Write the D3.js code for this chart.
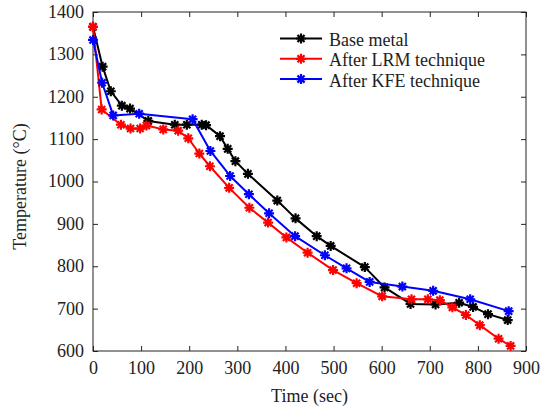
<!DOCTYPE html>
<html>
<head>
<meta charset="utf-8">
<script src="https://cdn.jsdelivr.net/npm/d3@7"></script>
<style>
  html, body { margin: 0; padding: 0; background: #fff; }
  svg { display: block; }
</style>
</head>
<body>
<svg id="chart" width="542" height="411"></svg>
<script>
// Cooling curves: time (sec) and temperature (°C)
const baseTime = [0, 20, 37, 60, 77, 115, 170, 195, 226, 235, 264, 280, 296, 322, 383, 421, 465, 494, 565, 606, 660, 712, 761, 790, 821, 862];
const baseTemp = [1365, 1271, 1213, 1179, 1172, 1143, 1134, 1134, 1134, 1133, 1107, 1077, 1048, 1018, 955, 913, 871, 848, 798, 750, 711, 710, 714, 704, 687, 673];

const lrmTime = [0, 18, 58, 78, 98, 111, 146, 177, 198, 221, 243, 283, 325, 364, 402, 446, 499, 548, 601, 662, 696, 721, 747, 775, 804, 843, 868];
const lrmTemp = [1365, 1170, 1134, 1125, 1125, 1132, 1123, 1120, 1102, 1066, 1036, 985, 938, 903, 868, 832, 791, 760, 729, 722, 722, 720, 703, 685, 661, 629, 612];

const kfeTime = [0, 19, 42, 96, 207, 244, 285, 324, 366, 420, 482, 527, 575, 643, 707, 784, 864];
const kfeTemp = [1334, 1233, 1156, 1160, 1147, 1072, 1013, 970, 925, 871, 826, 795, 763, 752, 742, 722, 694];

const seriesNames = ["Base metal", "After LRM technique", "After KFE technique"];
const seriesColors = ["#000000", "#ff0000", "#0000ff"];

const xTicks = [0, 100, 200, 300, 400, 500, 600, 700, 800, 900];
const yTicks = [600, 700, 800, 900, 1000, 1100, 1200, 1300, 1400];

const series = [
  { name: seriesNames[0], color: seriesColors[0], pts: baseTime.map((t, i) => [t, baseTemp[i]]) },
  { name: seriesNames[1], color: seriesColors[1], pts: lrmTime.map((t, i) => [t, lrmTemp[i]]) },
  { name: seriesNames[2], color: seriesColors[2], pts: kfeTime.map((t, i) => [t, kfeTemp[i]]) }
];

const FONT = "'Liberation Serif', 'Times New Roman', serif";
const fontSize = 18;
const ink = "#222";

const svg = d3.select("#chart");
const plotL = 93, plotR = 526, plotT = 12, plotB = 351;

const x = d3.scaleLinear().domain([0, 900]).range([plotL, plotR]);
const y = d3.scaleLinear().domain([600, 1400]).range([plotB, plotT]);

const tickLen = 5;

function styleText(sel) {
  sel.style("font-family", FONT).style("font-size", fontSize + "px").style("fill", ink);
}

// Plot frame
svg.append("rect")
  .attr("x", plotL).attr("y", plotT)
  .attr("width", plotR - plotL).attr("height", plotB - plotT)
  .attr("fill", "none").attr("stroke", ink).attr("stroke-width", 1);

// Bottom axis (inward ticks)
const xAxis = svg.append("g").attr("transform", `translate(0,${plotB})`)
  .call(d3.axisBottom(x).tickValues(xTicks).tickSize(-tickLen).tickPadding(10).tickFormat(d3.format("d")));
xAxis.select(".domain").remove();
xAxis.selectAll("line").attr("stroke", ink);
xAxis.selectAll("text").call(styleText).attr("dy", "0.74em");

// Top mirrored ticks
const xTop = svg.append("g").attr("transform", `translate(0,${plotT})`)
  .call(d3.axisTop(x).tickValues(xTicks).tickSize(-tickLen).tickFormat(""));
xTop.select(".domain").remove();
xTop.selectAll("line").attr("stroke", ink);

// Left axis
const yAxis = svg.append("g").attr("transform", `translate(${plotL},0)`)
  .call(d3.axisLeft(y).tickValues(yTicks).tickSize(-tickLen).tickPadding(9).tickFormat(d3.format("d")));
yAxis.select(".domain").remove();
yAxis.selectAll("line").attr("stroke", ink);
yAxis.selectAll("text").call(styleText).attr("dy", "0.3em");

// Right mirrored ticks
const yRight = svg.append("g").attr("transform", `translate(${plotR},0)`)
  .call(d3.axisRight(y).tickValues(yTicks).tickSize(-tickLen).tickFormat(""));
yRight.select(".domain").remove();
yRight.selectAll("line").attr("stroke", ink);

// Axis titles
svg.append("text")
  .attr("x", (plotL + plotR) / 2).attr("y", 402)
  .attr("text-anchor", "middle")
  .call(styleText)
  .text("Time (sec)");

svg.append("text")
  .attr("transform", `translate(26,${(plotT + plotB) / 2 + 5}) rotate(-90)`)
  .attr("text-anchor", "middle")
  .call(styleText)
  .text("Temperature (°C)");

// Asterisk marker path centred at origin
const r = 5;
const d45 = r * Math.SQRT1_2;
const starPath = `M${-r},0L${r},0M0,${-r}L0,${r}M${-d45},${-d45}L${d45},${d45}M${-d45},${d45}L${d45},${-d45}`;

const line = d3.line().x(d => x(d[0])).y(d => y(d[1]));

const plot = svg.append("g");
series.forEach(s => {
  const g = plot.append("g");
  g.append("path")
    .attr("d", line(s.pts))
    .attr("fill", "none").attr("stroke", s.color).attr("stroke-width", 2)
    .attr("stroke-linejoin", "round");
  g.selectAll("path.mk").data(s.pts).join("path")
    .attr("class", "mk")
    .attr("transform", d => `translate(${x(d[0])},${y(d[1])})`)
    .attr("d", starPath)
    .attr("fill", "none").attr("stroke", s.color).attr("stroke-width", 2.2);
});

// Legend
const legend = svg.append("g");
series.forEach((s, i) => {
  const ly = 38.5 + i * 20.3;
  legend.append("line")
    .attr("x1", 280).attr("x2", 322).attr("y1", ly).attr("y2", ly)
    .attr("stroke", s.color).attr("stroke-width", 2);
  legend.append("path")
    .attr("transform", `translate(301,${ly})`)
    .attr("d", starPath)
    .attr("fill", "none").attr("stroke", s.color).attr("stroke-width", 2.2);
  legend.append("text")
    .attr("x", 329).attr("y", ly + 7.5)
    .call(styleText)
    .text(s.name);
});
</script>
</body>
</html>
